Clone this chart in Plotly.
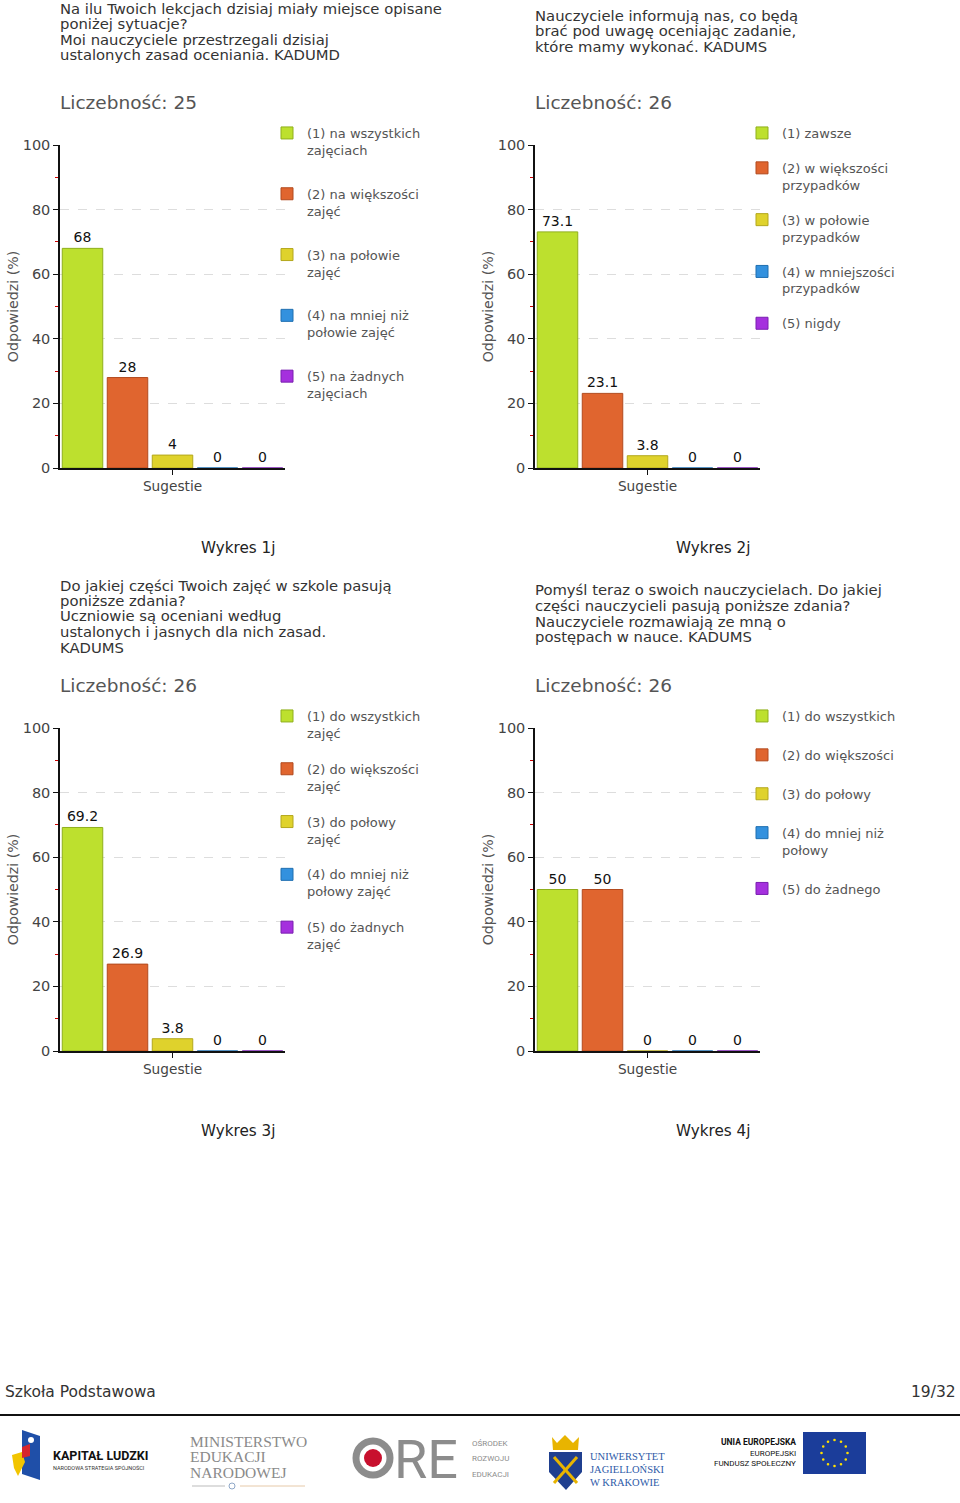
import math
import plotly.graph_objects as go

W, H = 960, 1503
FONT = "DejaVu Sans"
SANS2 = "Roboto"

# ---------------- data ----------------
category = ["Sugestie"]

labels_1 = ["(1) na wszystkich<br>zajęciach", "(2) na większości<br>zajęć", "(3) na połowie<br>zajęć",
            "(4) na mniej niż<br>połowie zajęć", "(5) na żadnych<br>zajęciach"]
values_1 = [68, 28, 4, 0, 0]

labels_2 = ["(1) zawsze", "(2) w większości<br>przypadków", "(3) w połowie<br>przypadków",
            "(4) w mniejszości<br>przypadków", "(5) nigdy"]
values_2 = [73.1, 23.1, 3.8, 0, 0]

labels_3 = ["(1) do wszystkich<br>zajęć", "(2) do większości<br>zajęć", "(3) do połowy<br>zajęć",
            "(4) do mniej niż<br>połowy zajęć", "(5) do żadnych<br>zajęć"]
values_3 = [69.2, 26.9, 3.8, 0, 0]

labels_4 = ["(1) do wszystkich", "(2) do większości", "(3) do połowy",
            "(4) do mniej niż<br>połowy", "(5) do żadnego"]
values_4 = [50, 50, 0, 0, 0]

question_1 = ["Na ilu Twoich lekcjach dzisiaj miały miejsce opisane", "poniżej sytuacje?",
              "Moi nauczyciele przestrzegali dzisiaj", "ustalonych zasad oceniania. KADUMD"]
question_2 = ["Nauczyciele informują nas, co będą", "brać pod uwagę oceniając zadanie,",
              "które mamy wykonać. KADUMS"]
question_3 = ["Do jakiej części Twoich zajęć w szkole pasują", "poniższe zdania?",
              "Uczniowie są oceniani według", "ustalonych i jasnych dla nich zasad.", "KADUMS"]
question_4 = ["Pomyśl teraz o swoich nauczycielach. Do jakiej", "części nauczycieli pasują poniższe zdania?",
              "Nauczyciele rozmawiają ze mną o", "postępach w nauce. KADUMS"]

counts = [25, 26, 26, 26]
captions = ["Wykres 1j", "Wykres 2j", "Wykres 3j", "Wykres 4j"]
y_title = "Odpowiedzi (%)"
count_label = "Liczebność: "

# ---------------- styles ----------------
fills = ["#BDE02E", "#E0652F", "#DFD22C", "#3391DE", "#A530DE"]
edges = ["#8FAF1C", "#B24A1E", "#B3A71C", "#1F6FB0", "#7A1FB0"]


def px(x):
    return x / W


def py(y):
    return 1 - y / H


panels = [
    dict(labels=labels_1, values=values_1, q=question_1, qy=8, x0=60, top=145, bottom=468,
         cnt_y=102, cap_y=548, leg_y=118, leg_gap=24),
    dict(labels=labels_2, values=values_2, q=question_2, qy=15, x0=535, top=145, bottom=468,
         cnt_y=102, cap_y=548, leg_y=118, leg_gap=15),
    dict(labels=labels_3, values=values_3, q=question_3, qy=585, x0=60, top=728, bottom=1051,
         cnt_y=685, cap_y=1131, leg_y=701, leg_gap=16),
    dict(labels=labels_4, values=values_4, q=question_4, qy=590, x0=535, top=728, bottom=1051,
         cnt_y=685, cap_y=1131, leg_y=701, leg_gap=19),
]
PLOT_W = 225

fig = go.Figure()
annotations = []
shapes = []

for k, p in enumerate(panels):
    n = k + 1
    ax = "" if n == 1 else str(n)
    leg = "legend" if n == 1 else f"legend{n}"
    for i, (lab, val) in enumerate(zip(p["labels"], p["values"])):
        fig.add_trace(go.Bar(
            x=category, y=[val], name=lab,
            xaxis=f"x{ax}", yaxis=f"y{ax}",
            legend=leg, legendgroup=f"p{n}_{i}",
            marker=dict(color=fills[i], line=dict(color=edges[i], width=1)),
            texttemplate="%{y}", textposition="outside",
            textfont=dict(family=FONT, size=14, color="#111111"),
            cliponaxis=False, hoverinfo="name+y",
        ))
    dom_x = [px(p["x0"]), px(p["x0"] + PLOT_W)]
    dom_y = [py(p["bottom"]), py(p["top"])]
    fig.update_layout(**{
        f"xaxis{ax}": dict(
            domain=dom_x, anchor=f"y{ax}", type="category", range=[-0.5, 0.5],
            showline=True, linecolor="#111111", linewidth=1.5,
            ticks="outside", ticklen=5, tickcolor="#111111",
            tickfont=dict(family=FONT, size=13.7, color="#444444"),
            showgrid=False, fixedrange=True, automargin=False,
        ),
        f"yaxis{ax}": dict(
            domain=dom_y, anchor=f"x{ax}", range=[0, 100], dtick=20,
            showline=True, linecolor="#111111", linewidth=1.5,
            ticks="outside", ticklen=5, tickcolor="#111111",
            tickfont=dict(family=FONT, size=14.5, color="#444444"),
            showgrid=True, gridcolor="#DDDDDD", griddash="dash", gridwidth=1,
            zeroline=False,
            minor=dict(dtick=10, ticks="outside", ticklen=3, tickcolor="#CC0000", showgrid=False),
            title=dict(text=y_title, font=dict(family=FONT, size=14.2, color="#555555"), standoff=1),
            fixedrange=True, automargin=False,
        ),
        leg: dict(
            x=px(p["x0"] + PLOT_W - 18), y=py(p["leg_y"]), xanchor="left", yanchor="top",
            valign="top",
            bgcolor="rgba(0,0,0,0)", font=dict(family=FONT, size=13, color="#555555"),
            tracegroupgap=p["leg_gap"], itemclick=False, itemdoubleclick=False,
        ),
    })

    # question text
    for j, line in enumerate(p["q"]):
        annotations.append(dict(
            x=px(p["x0"] - 2), y=py(p["qy"] + j * 15.5), xref="paper", yref="paper",
            xanchor="left", yanchor="middle", showarrow=False, text=line,
            font=dict(family=FONT, size=14.8, color="#333333"),
        ))
    # count
    annotations.append(dict(
        x=px(p["x0"] - 2), y=py(p["cnt_y"]), xref="paper", yref="paper",
        xanchor="left", yanchor="middle", showarrow=False, text=f"{count_label}{counts[k]}",
        font=dict(family=FONT, size=18.5, color="#555555"),
    ))
    # caption
    annotations.append(dict(
        x=px(p["x0"] + 178), y=py(p["cap_y"]), xref="paper", yref="paper",
        xanchor="center", yanchor="middle", showarrow=False, text=captions[k],
        font=dict(family=FONT, size=15.2, color="#222222"),
    ))


def txt(x, y, text, size, color, anchor="left", family=FONT):
    annotations.append(dict(
        x=px(x), y=py(y), xref="paper", yref="paper", xanchor=anchor, yanchor="middle",
        showarrow=False, text=text, font=dict(family=family, size=size, color=color),
    ))


def rect(x0, y0, x1, y1, fill, line=None, lw=0):
    shapes.append(dict(type="rect", xref="paper", yref="paper",
                       x0=px(x0), x1=px(x1), y0=py(y1), y1=py(y0),
                       fillcolor=fill, line=dict(color=line or fill, width=lw), layer="above"))


def circle(cx, cy, r, fill, line=None, lw=0):
    shapes.append(dict(type="circle", xref="paper", yref="paper",
                       x0=px(cx - r), x1=px(cx + r), y0=py(cy + r), y1=py(cy - r),
                       fillcolor=fill, line=dict(color=line or fill, width=lw), layer="above"))


def poly(points, fill, line=None, lw=0):
    d = "M" + " L".join(f"{px(x):.5f},{py(y):.5f}" for x, y in points) + " Z"
    shapes.append(dict(type="path", xref="paper", yref="paper", path=d,
                       fillcolor=fill, line=dict(color=line or fill, width=lw), layer="above"))


def seg(x0, y0, x1, y1, color, lw):
    shapes.append(dict(type="line", xref="paper", yref="paper",
                       x0=px(x0), x1=px(x1), y0=py(y0), y1=py(y1),
                       line=dict(color=color, width=lw), layer="above"))


# ---------------- footer ----------------
txt(3, 1392, "Szkoła Podstawowa", 15.5, "#333333")
txt(958, 1392, "19/32", 15.5, "#333333", anchor="right")
seg(0, 1415, 960, 1415, "#111111", 2)

# Kapitał Ludzki
poly([(22, 1430), (40, 1436), (40, 1480), (22, 1474)], "#1F4FA8")
poly([(12, 1455), (22, 1452), (25, 1462), (18, 1476), (14, 1468)], "#F2C500")
poly([(22, 1447), (30, 1444), (30, 1456), (22, 1458)], "#D7262E")
circle(31, 1440, 3, "#FFFFFF")
txt(51, 1455, "<b>KAPITAŁ LUDZKI</b>", 12.5, "#111111", family=SANS2)
txt(51, 1467, "NARODOWA STRATEGIA SPÓJNOŚCI", 5.5, "#333333", family=SANS2)

# Ministerstwo Edukacji Narodowej
txt(188, 1441, "MINISTERSTWO", 15.5, "#8A8A8A", family="Liberation Serif")
txt(188, 1456, "EDUKACJI", 15.5, "#8A8A8A", family="Liberation Serif")
txt(188, 1472, "NARODOWEJ", 15.5, "#8A8A8A", family="Liberation Serif")
seg(192, 1486, 225, 1486, "#BBBBBB", 1)
seg(240, 1486, 305, 1486, "#E6C9A8", 1)
circle(232, 1486, 3, "#FFFFFF", "#8FA8C8", 1)

# ORE
circle(373, 1458, 17, "rgba(0,0,0,0)", "#8C8C8C", 7)
circle(373, 1458, 9, "#C8102E")
txt(426, 1459, "RE", 54, "#8C8C8C", anchor="center", family=SANS2)
txt(470, 1443, "OŚRODEK", 8, "#8C8C8C", family=SANS2)
txt(470, 1458, "ROZWOJU", 8, "#8C8C8C", family=SANS2)
txt(470, 1474, "EDUKACJI", 8, "#8C8C8C", family=SANS2)

# UJ
poly([(552, 1437), (557, 1443), (565, 1435), (573, 1443), (579, 1437), (578, 1450), (553, 1450)], "#E8B400")
poly([(549, 1452), (582, 1452), (582, 1472), (566, 1490), (549, 1472)], "#1F3F8F")
seg(554, 1457, 577, 1483, "#E8B400", 3)
seg(577, 1457, 554, 1483, "#E8B400", 3)
txt(588, 1456, "UNIWERSYTET", 10.5, "#2E5AA8", family="Liberation Serif")
txt(588, 1469, "JAGIELLOŃSKI", 10.5, "#2E5AA8", family="Liberation Serif")
txt(588, 1482, "W KRAKOWIE", 10.5, "#2E5AA8", family="Liberation Serif")

# UE
txt(798, 1442, "<b>UNIA EUROPEJSKA</b>", 8.5, "#111111", anchor="right", family=SANS2)
txt(798, 1453, "EUROPEJSKI", 8, "#111111", anchor="right", family=SANS2)
txt(798, 1463, "FUNDUSZ SPOŁECZNY", 8, "#111111", anchor="right", family=SANS2)
rect(803, 1432, 866, 1474, "#1B3D9A")
for s in range(12):
    a = 2 * math.pi * s / 12
    circle(834.5 + 13 * math.cos(a), 1453 + 13 * math.sin(a), 1.3, "#FFE000")

fig.update_layout(
    width=W, height=H, margin=dict(l=0, r=0, t=0, b=0, autoexpand=False),
    paper_bgcolor="#FFFFFF", plot_bgcolor="#FFFFFF",
    barmode="group", bargap=0, bargroupgap=0.1,
    showlegend=True, annotations=annotations, shapes=shapes,
    font=dict(family=FONT),
)

fig.write_html(
    "out.html",
    config={"displayModeBar": False},
    post_script="document.body.style.margin='0';",
)
